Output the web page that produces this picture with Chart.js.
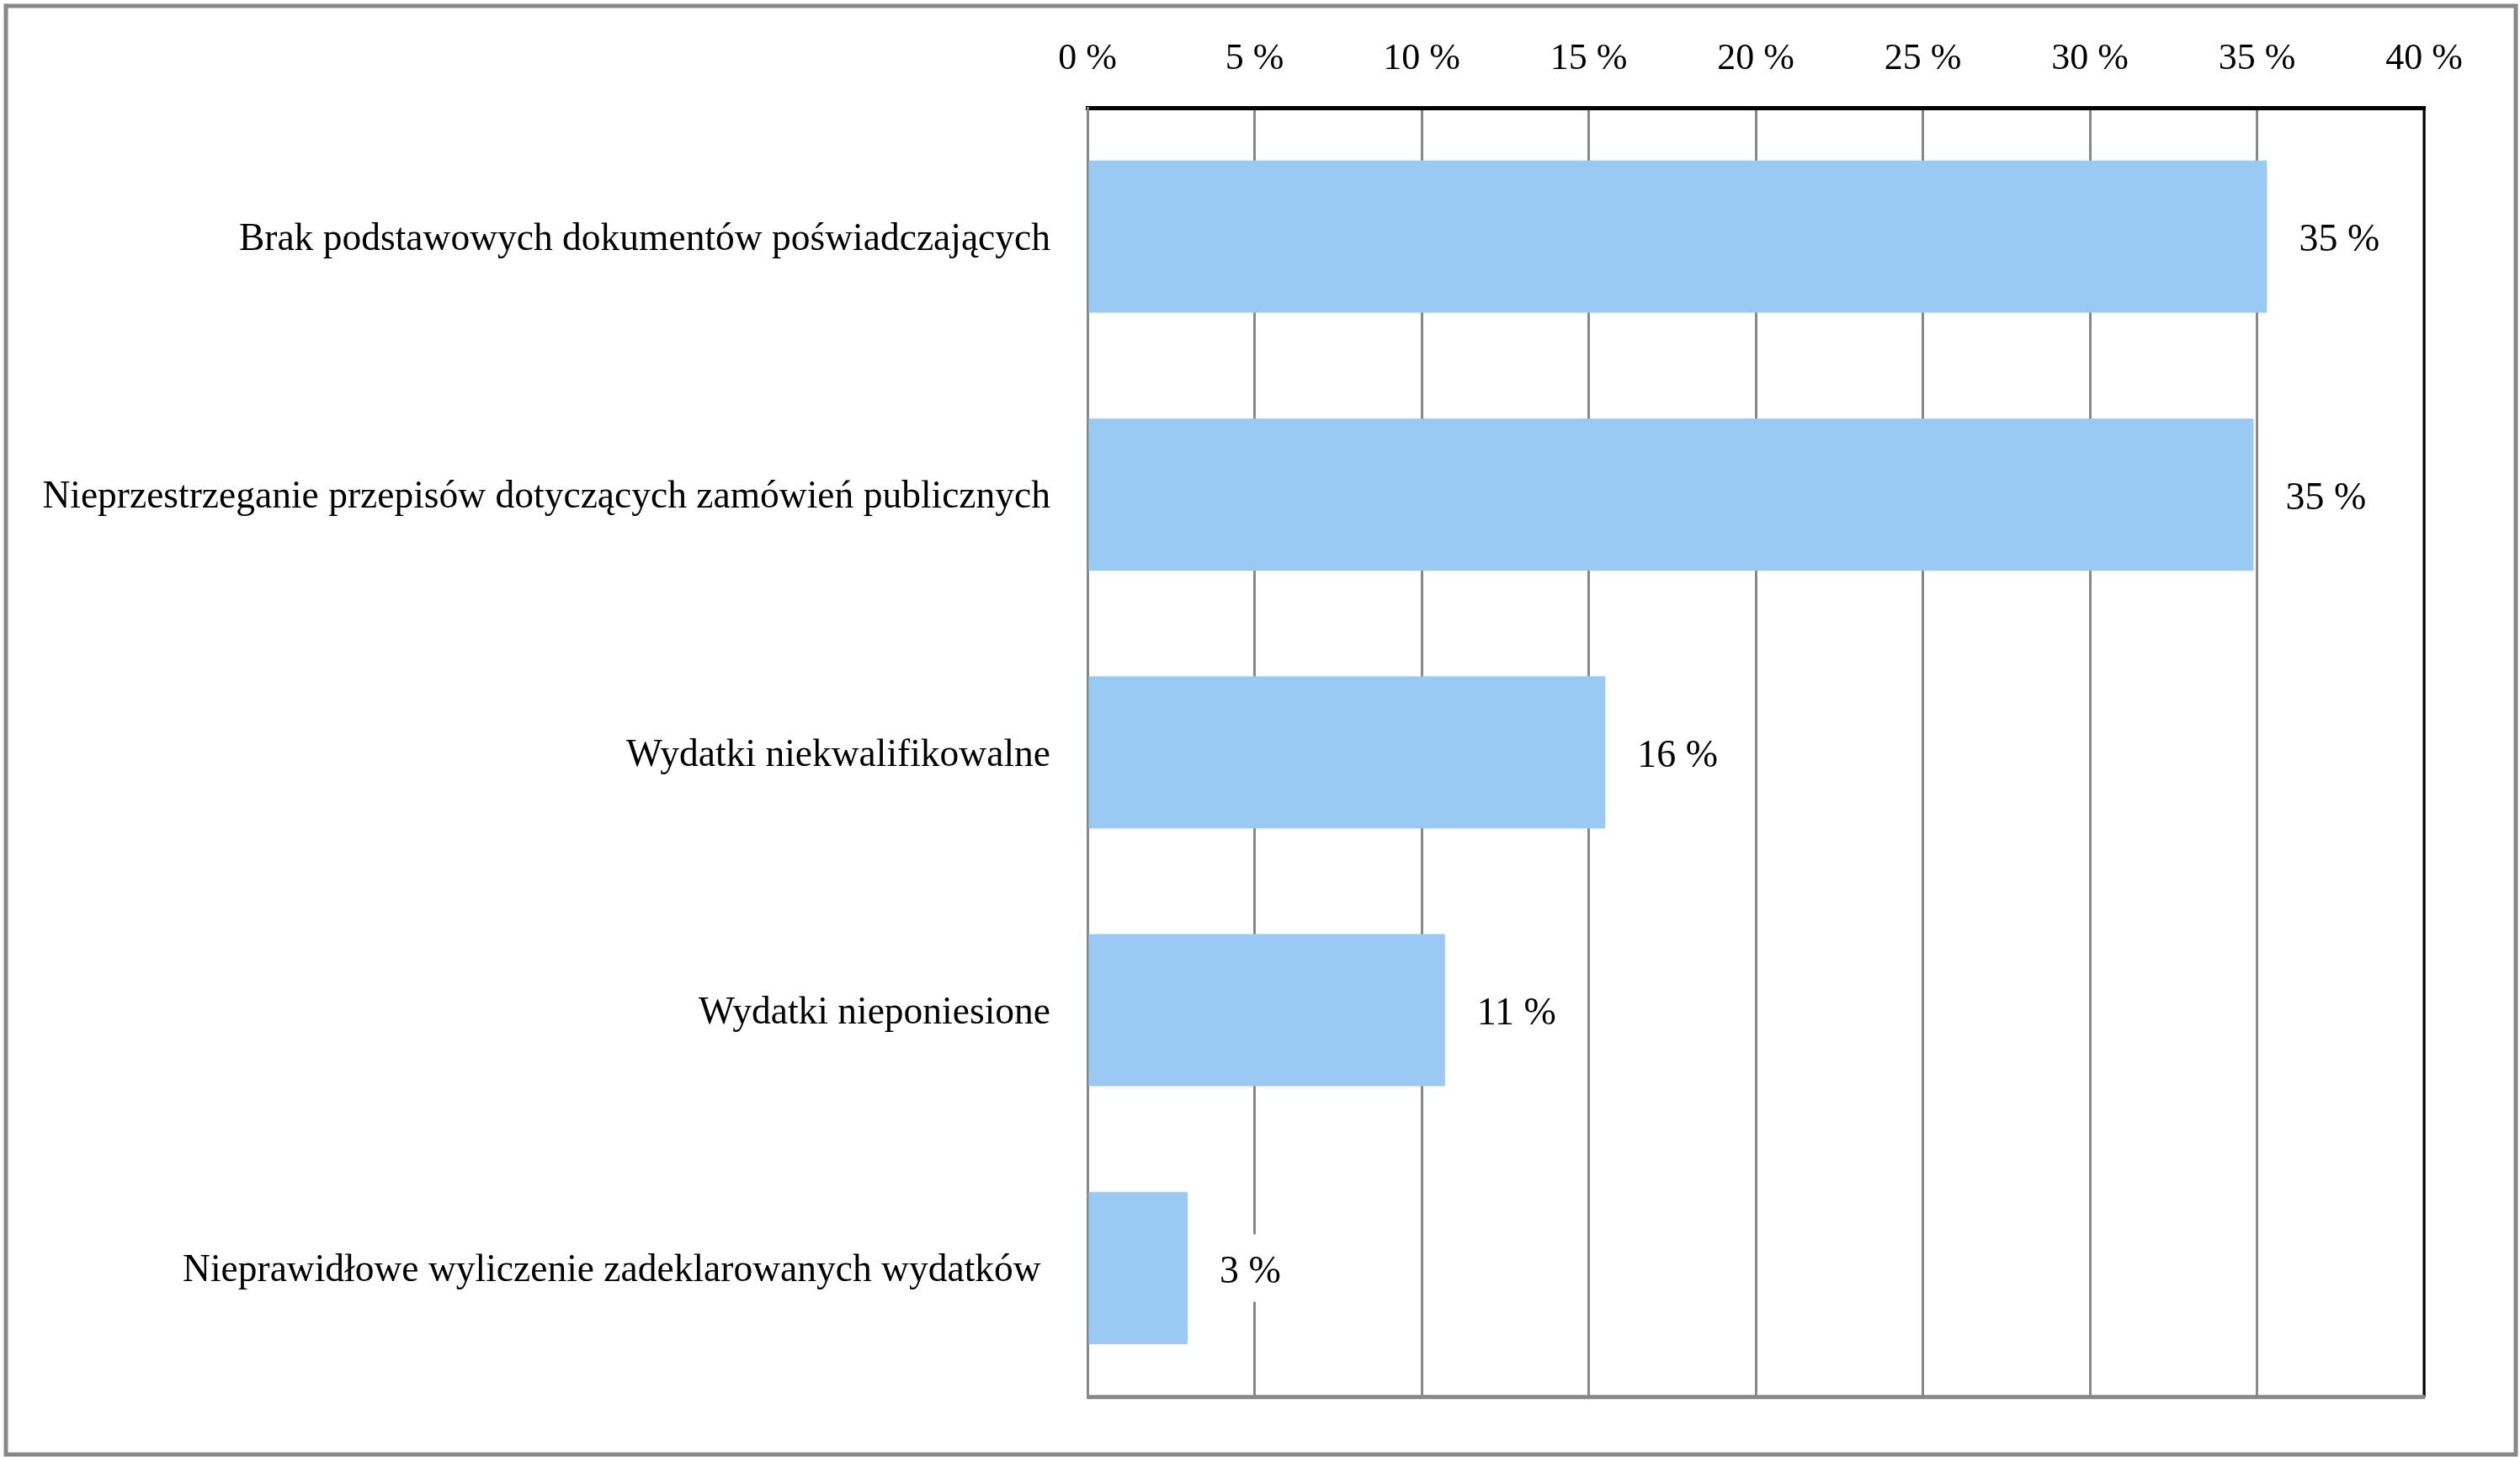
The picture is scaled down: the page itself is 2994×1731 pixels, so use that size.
<!DOCTYPE html>
<html>
<head>
<meta charset="utf-8">
<script src="https://cdn.jsdelivr.net/npm/chart.js@4.4.1/dist/chart.umd.min.js"></script>
<style>
  html, body { margin: 0; padding: 0; background: #fff; }
  #wrap { width: 2994px; height: 1731px; position: relative; }
  canvas { display: block; }
</style>
</head>
<body>
<div id="wrap"><canvas id="c" width="2994" height="1731"></canvas></div>
<script>
const categories = [
  'Brak podstawowych dokumentów poświadczających',
  'Nieprzestrzeganie przepisów dotyczących zamówień publicznych',
  'Wydatki niekwalifikowalne',
  'Wydatki nieponiesione',
  'Nieprawidłowe wyliczenie zadeklarowanych wydatków '
];
const values = [35.3, 34.9, 15.5, 10.7, 3.0];
const valueLabels = ['35 %', '35 %', '16 %', '11 %', '3 %'];
const tickValues = [0, 5, 10, 15, 20, 25, 30, 35, 40];
const tickLabels = ['0 %', '5 %', '10 %', '15 %', '20 %', '25 %', '30 %', '35 %', '40 %'];

const FONT = '"Liberation Serif", "Times New Roman", serif';

const framePlugin = {
  id: 'frame',
  beforeDraw(chart) {
    const ctx = chart.ctx;
    ctx.save();
    ctx.fillStyle = '#ffffff';
    ctx.fillRect(0, 0, chart.width, chart.height);
    ctx.strokeStyle = '#888888';
    ctx.lineWidth = 5;
    ctx.strokeRect(7, 7, 2982, 1721);
    ctx.restore();
  },
  afterDraw(chart) {
    const ctx = chart.ctx;
    const a = chart.chartArea;
    ctx.save();
    // right axis line (black)
    ctx.strokeStyle = '#000000';
    ctx.lineWidth = 3;
    ctx.beginPath();
    ctx.moveTo(a.right, a.top);
    ctx.lineTo(a.right, a.bottom);
    ctx.stroke();
    // bottom axis line (gray)
    ctx.strokeStyle = '#888888';
    ctx.lineWidth = 5;
    ctx.beginPath();
    ctx.moveTo(a.left - 1, a.bottom);
    ctx.lineTo(a.right + 1, a.bottom);
    ctx.stroke();
    ctx.restore();
  }
};

const valueLabelPlugin = {
  id: 'valueLabels',
  afterDatasetsDraw(chart) {
    const ctx = chart.ctx;
    const meta = chart.getDatasetMeta(0);
    ctx.save();
    ctx.font = '46px ' + FONT;
    ctx.textBaseline = 'middle';
    ctx.textAlign = 'left';
    meta.data.forEach((bar, i) => {
      const txt = valueLabels[i];
      const w = ctx.measureText(txt).width;
      const x = bar.x + 38;
      const y = bar.y;
      ctx.fillStyle = '#ffffff';
      ctx.fillRect(x - 6, y - 40, w + 12, 80);
      ctx.fillStyle = '#000000';
      ctx.fillText(txt, x, y + 5);
    });
    ctx.restore();
  }
};

new Chart(document.getElementById('c'), {
  type: 'bar',
  data: {
    labels: categories,
    datasets: [{
      data: values,
      backgroundColor: '#99CAF3',
      borderWidth: 0,
      categoryPercentage: 1.0,
      barPercentage: 0.59
    }]
  },
  options: {
    indexAxis: 'y',
    responsive: false,
    animation: false,
    events: [],
    layout: { padding: { left: 0, right: 114, top: 0, bottom: 66 } },
    plugins: {
      legend: { display: false },
      tooltip: { enabled: false },
      title: { display: false }
    },
    scales: {
      x: {
        position: 'top',
        min: 0,
        max: 40,
        afterBuildTicks(scale) {
          scale.ticks = tickValues.map(v => ({ value: v }));
        },
        afterFit(scale) { scale.height = 128; },
        grid: { display: true, color: '#888888', lineWidth: 3, drawTicks: false },
        border: { display: true, color: '#000000', width: 5 },
        ticks: {
          padding: 31,
          color: '#000000',
          font: { family: FONT, size: 44 },
          callback: (v, i) => tickLabels[i]
        }
      },
      y: {
        afterFit(scale) { scale.width = 1292; },
        grid: { display: false, drawTicks: false },
        border: { display: true, color: '#888888', width: 3 },
        ticks: {
          padding: 44,
          labelOffset: 4,
          color: '#000000',
          font: { family: FONT, size: 45.5 }
        }
      }
    }
  },
  plugins: [framePlugin, valueLabelPlugin]
});
</script>
</body>
</html>
